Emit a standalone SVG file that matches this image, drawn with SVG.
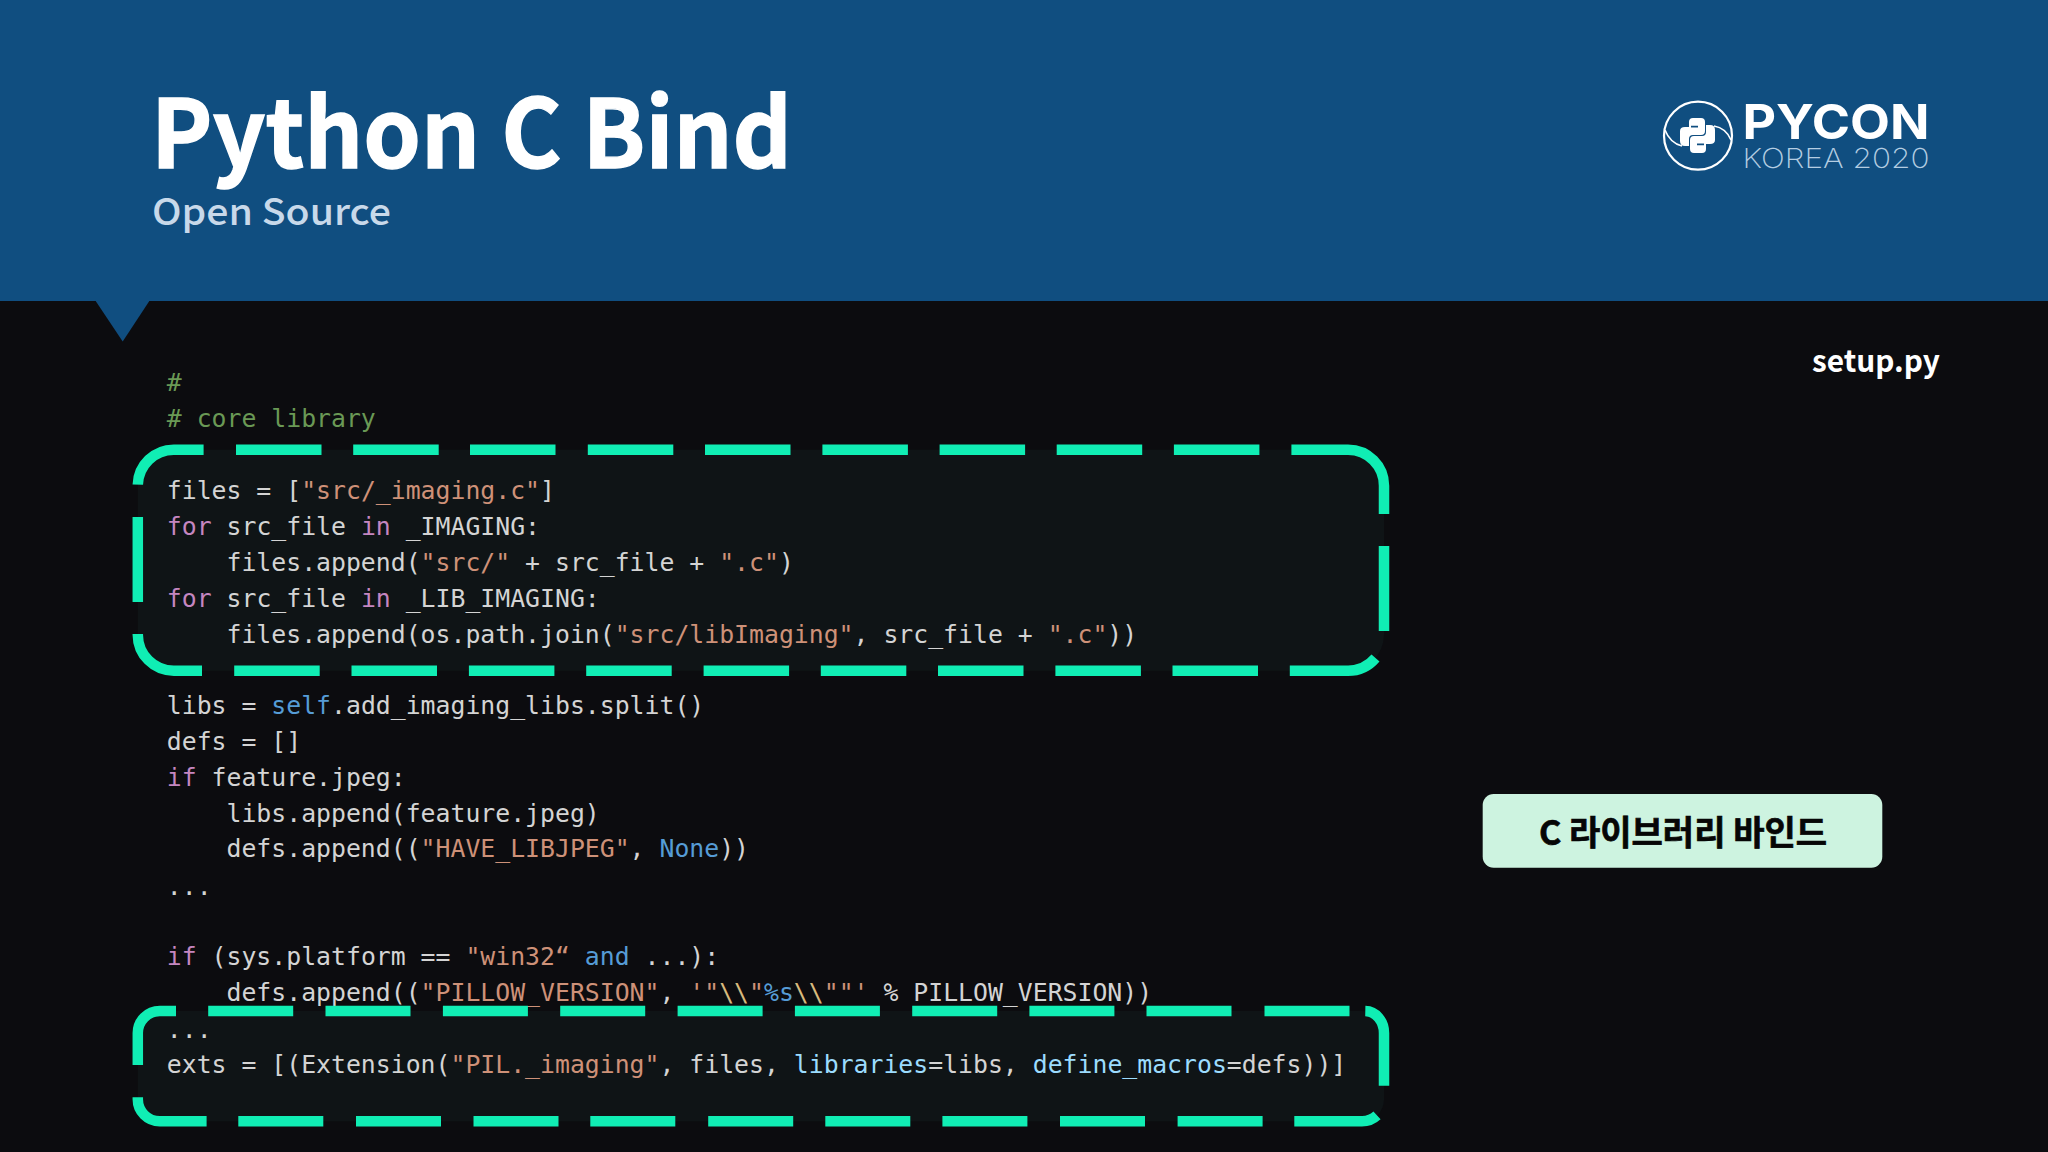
<svg xmlns="http://www.w3.org/2000/svg" width="2048" height="1152" viewBox="0 0 2048 1152">
<style>
.code{font-family:"DejaVu Sans Mono","Liberation Mono",monospace;font-size:24.8px;fill:#d4d4d4;white-space:pre}
.c{fill:#6a9955}.k{fill:#c586c0}.s{fill:#ce9178}.b{fill:#569cd6}.p{fill:#9cdcfe}.e{fill:#d7ba7d}
.dash{fill:none;stroke:#10eeb4;stroke-width:10.5}
.panel{fill:#0f1416}
</style>
<rect width="2048" height="1152" fill="#0c0c0f"/>
<g id="header">
<rect width="2048" height="301" fill="#104e80"/>
<path d="M95,300 H150 L122.7,341.5 Z" fill="#104e80"/>
<text x="151" y="168" font-family="'Noto Sans CJK KR','Noto Sans',sans-serif" font-weight="700" font-size="95" fill="#fff" stroke="#fff" stroke-width="1.4" textLength="641" lengthAdjust="spacingAndGlyphs">Python C Bind</text>
<text x="152" y="225" font-family="'Noto Sans CJK KR','Noto Sans',sans-serif" font-weight="500" font-size="37" fill="#c8d9ea" textLength="239" lengthAdjust="spacingAndGlyphs">Open Source</text>
</g>
<g id="logo">
<circle cx="1698" cy="135.7" r="34" fill="none" stroke="#fff" stroke-width="2.2"/>
<path d="M1665,130 Q1670,143 1682,146 M1714,126 Q1726,128 1731,140" fill="none" stroke="#fff" stroke-width="1.6"/>
<path id="snake" fill="#fff" fill-rule="evenodd" d="M1693,118 H1701 Q1705,118 1705,122 V131 Q1705,135 1701,135 H1693 Q1689,135 1689,139 V146 H1685 Q1680,146 1680,141 V131 Q1680,127 1685,127 H1689 V122 Q1689,118 1693,118Z M1691,125.8 h7 v1.6 h-7z"/>
<path fill="#fff" fill-rule="evenodd" transform="rotate(180 1697.5 135.5)" d="M1693,118 H1701 Q1705,118 1705,122 V131 Q1705,135 1701,135 H1693 Q1689,135 1689,139 V146 H1685 Q1680,146 1680,141 V131 Q1680,127 1685,127 H1689 V122 Q1689,118 1693,118Z M1691,125.8 h7 v1.6 h-7z"/>
<text x="1742.5" y="139" font-family="Inter,'Noto Sans',sans-serif" font-weight="700" font-size="48" fill="#fff" textLength="187" lengthAdjust="spacingAndGlyphs">PYCON</text>
<text x="1742.5" y="168" font-family="Inter,'Noto Sans',sans-serif" font-weight="200" font-size="27.5" fill="#b4cde2" textLength="187" lengthAdjust="spacingAndGlyphs">KOREA 2020</text>
</g>
<text id="filename" x="1812" y="371.5" font-family="'Noto Sans CJK KR','Noto Sans',sans-serif" font-weight="700" font-size="29.8" fill="#fff">setup.py</text>
<g id="panels">
<rect class="panel" x="137.8" y="449.7" width="1246.2" height="221" rx="36"/>
<rect class="panel" x="137.8" y="1011" width="1246.2" height="110.3" rx="22"/>
</g>
<g id="code" class="code">
<text x="166.8" y="391.3" class="c">#</text>
<text x="166.8" y="427.3" class="c"># core library</text>
<text x="166.8" y="499.3" xml:space="preserve">files = [<tspan class="s">"src/_imaging.c"</tspan>]</text>
<text x="166.8" y="535.1" xml:space="preserve"><tspan class="k">for</tspan> src_file <tspan class="k">in</tspan> _IMAGING:</text>
<text x="166.8" y="570.9" xml:space="preserve">    files.append(<tspan class="s">"src/"</tspan> + src_file + <tspan class="s">".c"</tspan>)</text>
<text x="166.8" y="606.7" xml:space="preserve"><tspan class="k">for</tspan> src_file <tspan class="k">in</tspan> _LIB_IMAGING:</text>
<text x="166.8" y="642.5" xml:space="preserve">    files.append(os.path.join(<tspan class="s">"src/libImaging"</tspan>, src_file + <tspan class="s">".c"</tspan>))</text>
<text x="166.8" y="714.1" xml:space="preserve">libs = <tspan class="b">self</tspan>.add_imaging_libs.split()</text>
<text x="166.8" y="749.9" xml:space="preserve">defs = []</text>
<text x="166.8" y="785.7" xml:space="preserve"><tspan class="k">if</tspan> feature.jpeg:</text>
<text x="166.8" y="821.5" xml:space="preserve">    libs.append(feature.jpeg)</text>
<text x="166.8" y="857.3" xml:space="preserve">    defs.append((<tspan class="s">"HAVE_LIBJPEG"</tspan>, <tspan class="b">None</tspan>))</text>
<text x="166.8" y="895" xml:space="preserve">...</text>
<text x="166.8" y="965" xml:space="preserve"><tspan class="k">if</tspan> (sys.platform == <tspan class="s">"win32“</tspan> <tspan class="b">and</tspan> ...):</text>
<text x="166.8" y="1001.3" xml:space="preserve">    defs.append((<tspan class="s">"PILLOW_VERSION"</tspan>, <tspan class="s">'"</tspan><tspan class="e">\\</tspan><tspan class="s">"</tspan><tspan class="b">%s</tspan><tspan class="e">\\</tspan><tspan class="s">""'</tspan> % PILLOW_VERSION))</text>
<text x="166.8" y="1038" xml:space="preserve">...</text>
<text x="166.8" y="1072.8" xml:space="preserve">exts = [(Extension(<tspan class="s">"PIL._imaging"</tspan>, files, <tspan class="p">libraries</tspan>=libs, <tspan class="p">define_macros</tspan>=defs))]</text>
</g>
<g id="connectors">
<path class="dash" d="M137.8,484.7 A36,36 0 0 1 173.8,449.7 H203.6 M236,449.7 h85.5 M353.2,449.7 h85.5 M470,449.7 h85.5 M587.8,449.7 h85.5 M705,449.7 h85.5 M822.4,449.7 h85.5 M939.6,449.7 h85.5 M1056.7,449.7 h85.5 M1173.9,449.7 h85.5 M1291.4,449.7 H1348 A36,36 0 0 1 1384,485.7 V514 M1384,546 V631 M1375.5,658 A36,36 0 0 1 1348,670.7 H1289.8 M1258,670.7 h-85.5 M1140.9,670.7 h-85.5 M1023.5,670.7 h-85.5 M906.3,670.7 h-85.5 M789.1,670.7 h-85.5 M671.7,670.7 h-85.5 M554.4,670.7 h-85.5 M437,670.7 h-85.5 M319.7,670.7 h-85.5 M202,670.7 H173.8 A36,36 0 0 1 137.8,634.7 V634 M137.8,602 V517"/>
<path class="dash" d="M137.8,1065 V1033 A22,22 0 0 1 159.8,1011 H176 M208.2,1011 h85 M325.5,1011 h85 M442.9,1011 h85 M560.2,1011 h85 M677.6,1011 h85 M794.9,1011 h85 M912.2,1011 h85 M1029.4,1011 h85 M1146.5,1011 h85 M1264.5,1011 h85 M1365.3,1011 A19,22 0 0 1 1384,1033 V1085.7 M1377,1115.4 A22,22 0 0 1 1362,1121.3 H1294.3 M1262.6,1121.3 h-85 M1145,1121.3 h-85 M1027.4,1121.3 h-85 M910.3,1121.3 h-85 M793.2,1121.3 h-85 M675.3,1121.3 h-85 M558.5,1121.3 h-85 M441,1121.3 h-85 M323.3,1121.3 h-85 M206.6,1121.3 H159.8 A22,22 0 0 1 137.8,1099.3 V1097.3"/>
</g>
<g id="badge">
<rect x="1482.7" y="794" width="399.6" height="73.7" rx="11" fill="#cdf3e0"/>
<text x="1683" y="845" text-anchor="middle" font-family="'Noto Sans CJK KR','Noto Sans',sans-serif" font-weight="700" font-size="34" fill="#060606" stroke="#060606" stroke-width="0.7">C 라이브러리 바인드</text>
</g>
</svg>
